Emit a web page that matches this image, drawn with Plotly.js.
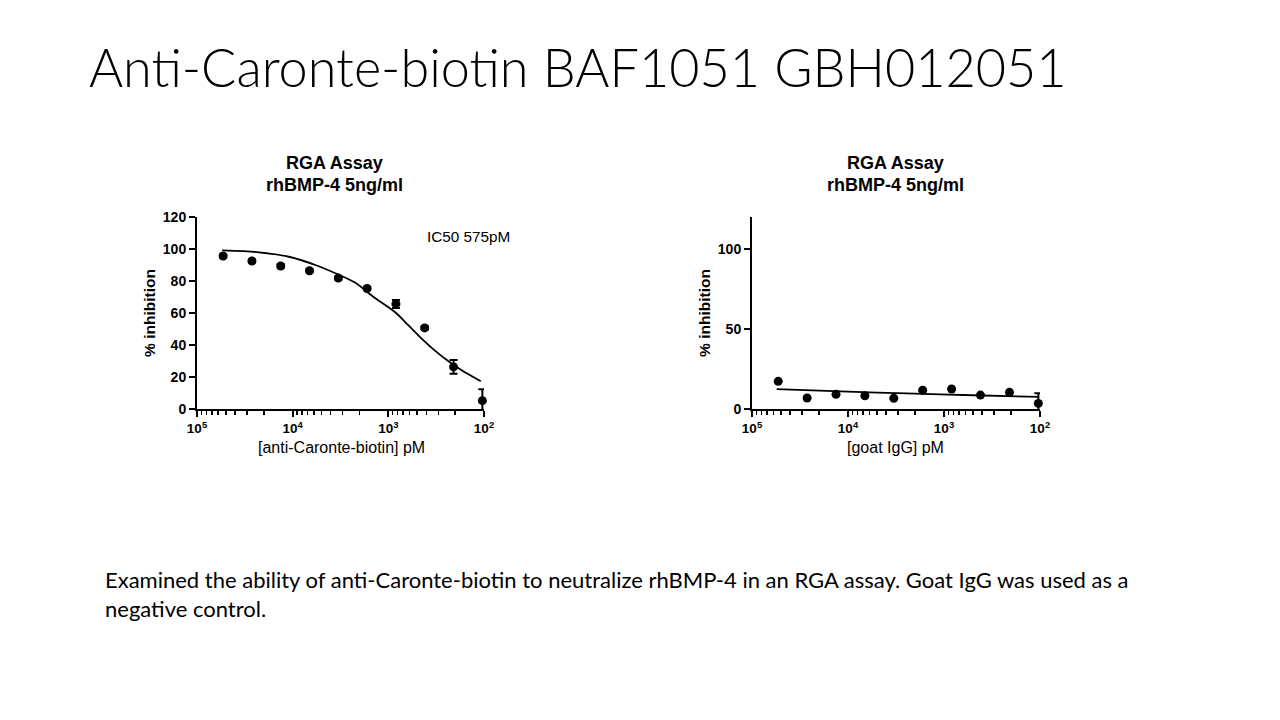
<!DOCTYPE html>
<html>
<head>
<meta charset="utf-8">
<script src="https://cdn.plot.ly/plotly-3.0.1.min.js"></script>
<style>
  html, body { margin: 0; padding: 0; background: #fff; }
  #chart { width: 1280px; height: 720px; }
</style>
</head>
<body>
<div id="chart"></div>
<script>
// concentrations (pM), 2-fold dilution series
var conc = [53333, 26667, 13333, 6667, 3333, 1667, 833, 417, 208, 104];

// anti-Caronte-biotin, % inhibition (mean, error)
var antiMean = [95.6, 92.5, 89.4, 86.4, 81.8, 75.3, 65.7, 50.7, 26.3, 5.2];
var antiErr = [1, 1, 1, 1, 1, 1, 2.5, 1, 4.3, 7.2];

// fitted curve
var antiFitX = [54450, 23770, 10670, 5610, 3470, 2234, 1380, 853, 619, 449, 326, 237, 171, 108];
var antiFitY = [99.1, 98.1, 95.0, 89.7, 84.5, 79.0, 69.4, 60.6, 52.4, 44.0, 36.5, 30.0, 24.2, 17.3];

// goat IgG, % inhibition
var iggMean = [17.3, 6.9, 9.2, 8.3, 6.7, 11.7, 12.5, 8.7, 10.4, 3.5];
var iggErr = [0, 0, 0, 0, 0, 0, 0, 0, 0, 6.3];
var iggFitX = [55300, 10000, 2450, 500, 104];
var iggFitY = [12.4, 10.8, 9.8, 8.6, 7.6];

var xTickVals = [100000, 10000, 1000, 100];
var xTickText = ['10<sup>5</sup>', '10<sup>4</sup>', '10<sup>3</sup>', '10<sup>2</sup>'];

function minorVals() {
	var v = [];
	for (var d = 100; d < 100000; d *= 10) {
		for (var k = 2; k <= 9; k++) v.push(k * d);
	}
	return v;
}

var arial = 'Arial, Liberation Sans';

function xAxis(domain, anchor) {
	return {
		type: 'log', range: [5, 2], domain: domain, anchor: anchor,
		showgrid: false, zeroline: false, showline: true, linewidth: 2, linecolor: '#000',
		ticks: 'outside', ticklen: 6, tickwidth: 2, tickcolor: '#000',
		tickmode: 'array', tickvals: xTickVals, ticktext: xTickText,
		tickfont: {family: arial, size: 13.5, color: '#000', weight: 'bold'},
		minor: {tickmode: 'array', tickvals: minorVals(), ticks: 'outside', ticklen: 3.5, tickwidth: 1.5, tickcolor: '#000', showgrid: false},
		automargin: false
	};
}

function yAxis(domain, ticks, anchor) {
	return {
		range: [0, 120], domain: domain, anchor: anchor,
		showgrid: false, zeroline: false, showline: true, linewidth: 2, linecolor: '#000',
		ticks: 'outside', ticklen: 6, tickwidth: 2, tickcolor: '#000',
		tickmode: 'array', tickvals: ticks,
		tickfont: {family: arial, size: 14, color: '#000', weight: 'bold'},
		title: {text: '% inhibition', font: {family: arial, size: 15.5, color: '#000', weight: 'bold'}},
		automargin: false
	};
}

var dots = {color: '#000', size: 9};
var bars = function (arr) {
	return {type: 'data', array: arr, visible: true, color: '#000', thickness: 2, width: 4};
};

var data = [
	{x: antiFitX, y: antiFitY, mode: 'lines', line: {color: '#000', width: 1.8, shape: 'spline', smoothing: 0.7}, xaxis: 'x', yaxis: 'y', hoverinfo: 'skip'},
	{x: conc, y: antiMean, mode: 'markers', marker: dots, error_y: bars(antiErr), xaxis: 'x', yaxis: 'y', cliponaxis: false},
	{x: iggFitX, y: iggFitY, mode: 'lines', line: {color: '#000', width: 1.8, shape: 'spline', smoothing: 0.7}, xaxis: 'x2', yaxis: 'y2', hoverinfo: 'skip'},
	{x: conc, y: iggMean, mode: 'markers', marker: dots, error_y: bars(iggErr), xaxis: 'x2', yaxis: 'y2', cliponaxis: false}
];

var yDom = [1 - 409 / 720, 1 - 217 / 720];

function note(px, py, text, size, extra) {
	var a = {xref: 'paper', yref: 'paper', x: px / 1280, y: 1 - py / 720, xanchor: 'center', yanchor: 'middle',
		showarrow: false, text: text, font: {family: arial, size: size, color: '#000'}};
	for (var k in extra) a[k] = extra[k];
	return a;
}

var layout = {
	width: 1280, height: 720,
	margin: {l: 0, r: 0, t: 0, b: 0},
	paper_bgcolor: '#fff', plot_bgcolor: '#fff',
	showlegend: false,
	xaxis: xAxis([197 / 1280, 484 / 1280], 'y'),
	yaxis: yAxis(yDom, [0, 20, 40, 60, 80, 100, 120], 'x'),
	xaxis2: xAxis([752 / 1280, 1040 / 1280], 'y2'),
	yaxis2: yAxis(yDom, [0, 50, 100], 'x2'),
	annotations: [
		note(87, 66, 'Anti-Caronte-biotin BAF1051 GBH012051', 52,
			{xanchor: 'left', font: {family: 'Lato, Open Sans', size: 52.2, color: '#000', weight: 300}}),
		note(334, 163, 'RGA Assay', 18, {font: {family: arial, size: 18, color: '#000', weight: 'bold'}}),
		note(334, 185, 'rhBMP-4 5ng/ml', 18, {font: {family: arial, size: 18, color: '#000', weight: 'bold'}}),
		note(895, 163, 'RGA Assay', 18, {font: {family: arial, size: 18, color: '#000', weight: 'bold'}}),
		note(895, 185, 'rhBMP-4 5ng/ml', 18, {font: {family: arial, size: 18, color: '#000', weight: 'bold'}}),
		note(341, 447, '[anti-Caronte-biotin] pM', 16),
		note(895, 447, '[goat IgG] pM', 16),
		note(425, 237, 'IC50 575pM', 15.3, {xanchor: 'left'}),
		note(103, 594, 'Examined the ability of anti-Caronte-biotin to neutralize rhBMP-4 in an RGA assay. Goat IgG was used as a<br>negative control.', 22,
			{xanchor: 'left', align: 'left', font: {family: 'Lato, Open Sans', size: 22, color: '#000'}})
	]
};

Plotly.newPlot('chart', data, layout, {staticPlot: true});
</script>
</body>
</html>
